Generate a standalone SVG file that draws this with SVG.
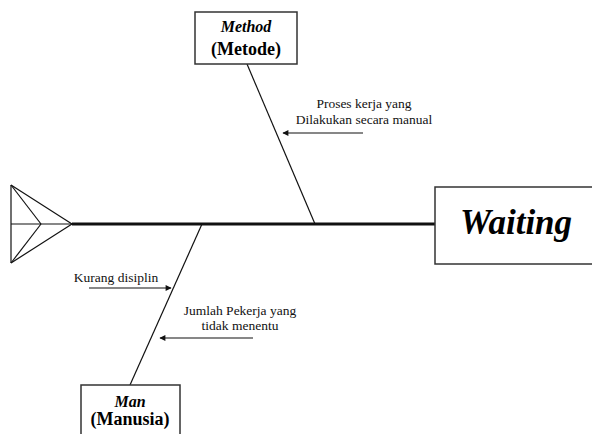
<svg xmlns="http://www.w3.org/2000/svg" width="592" height="434" viewBox="0 0 592 434">
  <style>
    .box { fill: #ffffff; stroke: #333333; stroke-width: 1.5; }
    .bone { stroke: #111111; stroke-width: 1.2; fill: none; }
    .spine { stroke: #111111; stroke-width: 3; fill: none; }
    .cause { stroke: #111111; stroke-width: 1.2; fill: none; marker-end: url(#arrow); }
    text { font-family: 'Liberation Serif', 'DejaVu Serif', serif; }
    .title { font-weight: bold; font-style: italic; fill: #000000; text-anchor: middle; }
    .sub { font-weight: bold; fill: #000000; text-anchor: middle; }
    .note { font-size: 13.5px; fill: #111111; text-anchor: middle; }
  </style>
  <defs>
    <marker id="arrow" viewBox="0 0 10 10" refX="9" refY="5" markerWidth="8" markerHeight="6" markerUnits="userSpaceOnUse" orient="auto">
      <path d="M0,0 L10,5 L0,10 z" fill="#111111"/>
    </marker>
  </defs>
  <rect width="592" height="434" fill="#ffffff"/>

  <!-- connectors: tail, spine, bones and cause arrows -->
  <g id="connectors">
    <g id="tail">
      <line class="bone" x1="11" y1="185" x2="11" y2="263"/>
      <line class="bone" x1="11" y1="224" x2="72" y2="224"/>
      <line class="bone" x1="11" y1="185" x2="72" y2="224"/>
      <line class="bone" x1="11" y1="263" x2="72" y2="224"/>
      <line class="bone" x1="11" y1="185" x2="41" y2="224"/>
      <line class="bone" x1="11" y1="263" x2="41" y2="224"/>
    </g>
    <line class="spine" x1="72" y1="224" x2="435" y2="224"/>
    <line class="bone" x1="247" y1="64" x2="315" y2="224"/>
    <line class="bone" x1="202" y1="224" x2="130" y2="385"/>
    <line class="cause" x1="363" y1="133" x2="283" y2="133"/>
    <line class="cause" x1="89" y1="288" x2="171" y2="288"/>
    <line class="cause" x1="253" y1="338" x2="160" y2="338"/>
  </g>

  <!-- head -->
  <g id="effect">
    <rect class="box" x="435" y="187" width="160" height="77"/>
    <text class="title" x="516" y="234" font-size="35">Waiting</text>
  </g>

  <g id="method">
    <rect class="box" x="195" y="12" width="102" height="52"/>
    <text class="title" x="246" y="32" font-size="16">Method</text>
    <text class="sub" x="246" y="55" font-size="18">(Metode)</text>
  </g>

  <g id="man">
    <rect class="box" x="81" y="385" width="99" height="60"/>
    <text class="title" x="130" y="407" font-size="16">Man</text>
    <text class="sub" x="130" y="425" font-size="18">(Manusia)</text>
  </g>

  <g id="cause-notes">
    <text class="note" x="364" y="108">Proses kerja yang</text>
    <text class="note" x="364" y="124">Dilakukan secara manual</text>
    <text class="note" x="116" y="282">Kurang disiplin</text>
    <text class="note" x="240" y="315">Jumlah Pekerja yang</text>
    <text class="note" x="240" y="330">tidak menentu</text>
  </g>
</svg>
